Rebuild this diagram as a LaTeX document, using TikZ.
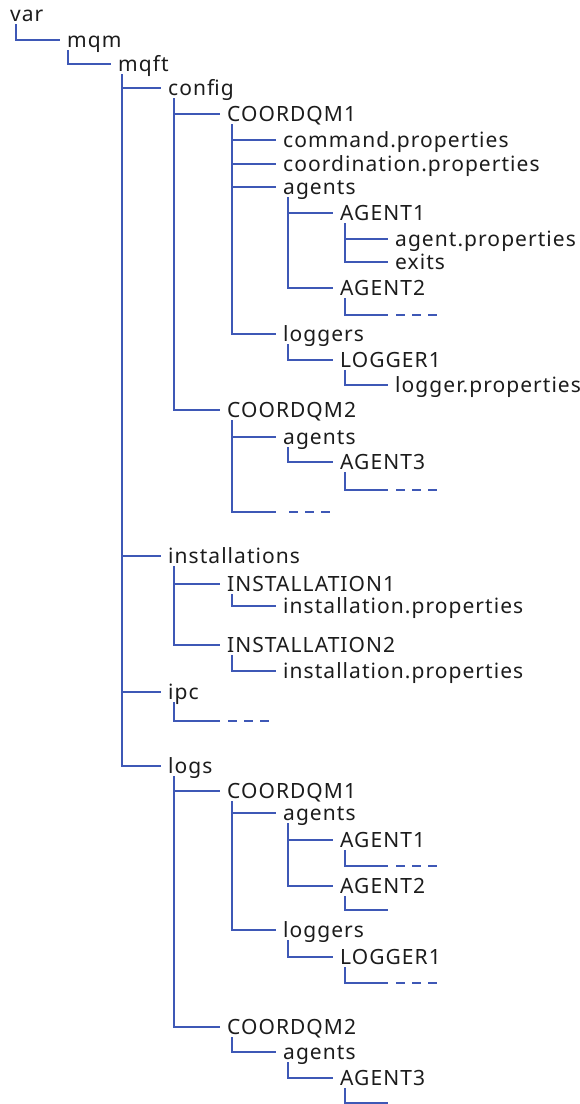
\documentclass[tikz,border=0pt]{standalone}
\usepackage{fontspec}
\usepackage{xcolor}
\usepackage{tikz}
\newfontfamily\dirfont[LetterSpace=5]{Noto Sans}
\definecolor{treeblue}{RGB}{62,88,182}
\definecolor{dirtext}{RGB}{28,28,28}
\tikzset{
    dir/.style={anchor=west, inner xsep=7pt, inner ysep=0pt, text height=17pt, text depth=3pt,
        font=\dirfont\fontsize{21}{24}\selectfont, text=dirtext},
    link/.style={draw=treeblue, line width=1.5pt},
    more/.style={draw=treeblue, line width=1.5pt, dash pattern=on 9pt off 7pt}
}

\begin{document}
\begin{tikzpicture}[x=1pt,y=-1pt]
    \useasboundingbox (0,0) rectangle (580,1104);

    % top of the tree
    \node[dir] (var) at (3,14) {var};
    \node[dir] (mqm) at (60,40) {mqm};
    \node[dir] (mqft) at (111,64) {mqft};
    \draw[link] ([xshift=13pt]var.south west) |- (mqm.west);
    \draw[link] ([xshift=8pt]mqm.south west) |- (mqft.west);

    % config
    \node[dir] (config) at (161,88) {config};
    \node[dir] (cq1) at (220,114) {COORDQM1};
    \node[dir] (cmd) at (276,140) {command.properties};
    \node[dir] (coord) at (276,164) {coordination.properties};
    \node[dir] (agents) at (276,187) {agents};
    \node[dir] (ag1) at (333,213) {AGENT1};
    \node[dir] (agprop) at (388,239) {agent.properties};
    \node[dir] (exits) at (388,262) {exits};
    \node[dir] (ag2) at (333,288) {AGENT2};
    \coordinate (ag2more) at (388,315);
    \node[dir] (loggers) at (276,334) {loggers};
    \node[dir] (lg1) at (333,360) {LOGGER1};
    \node[dir] (lgprop) at (388,385) {logger.properties};
    \node[dir] (cq2) at (220,410) {COORDQM2};
    \node[dir] (agents2) at (276,437) {agents};
    \node[dir] (ag3) at (333,462) {AGENT3};
    \coordinate (ag3more) at (388,490);
    \coordinate (cq2more) at (276,512);

    \draw[link] ([xshift=13pt]config.south west) |- (cq1.west)
        ([xshift=13pt]config.south west) |- (cq2.west);
    \draw[link] ([xshift=12pt]cq1.south west) |- (cmd.west)
        ([xshift=12pt]cq1.south west) |- (coord.west)
        ([xshift=12pt]cq1.south west) |- (agents.west)
        ([xshift=12pt]cq1.south west) |- (loggers.west);
    \draw[link] ([xshift=12pt]agents.south west) |- (ag1.west)
        ([xshift=12pt]agents.south west) |- (ag2.west);
    \draw[link] ([xshift=12pt]ag1.south west) |- (agprop.west)
        ([xshift=12pt]ag1.south west) |- (exits.west);
    \draw[link] ([xshift=12pt]ag2.south west) |- (ag2more);
    \draw[link] ([xshift=12pt]loggers.south west) |- (lg1.west);
    \draw[link] ([xshift=12pt]lg1.south west) |- (lgprop.west);
    \draw[link] ([xshift=12pt]cq2.south west) |- (agents2.west)
        ([xshift=12pt]cq2.south west) |- (cq2more);
    \draw[link] ([xshift=12pt]agents2.south west) |- (ag3.west);
    \draw[link] ([xshift=12pt]ag3.south west) |- (ag3more);
    \draw[more] ([xshift=8pt]ag2more) -- ++(42,0);
    \draw[more] ([xshift=8pt]ag3more) -- ++(42,0);
    \draw[more] ([xshift=13pt]cq2more) -- ++(42,0);

    % installations and ipc
    \node[dir] (inst) at (161,556) {installations};
    \node[dir] (inst1) at (220,584) {INSTALLATION1};
    \node[dir] (iprop1) at (276,606) {installation.properties};
    \node[dir] (inst2) at (220,645) {INSTALLATION2};
    \node[dir] (iprop2) at (276,671) {installation.properties};
    \node[dir] (ipc) at (161,692) {ipc};
    \coordinate (ipcmore) at (220,721);

    \draw[link] ([xshift=13pt]inst.south west) |- (inst1.west)
        ([xshift=13pt]inst.south west) |- (inst2.west);
    \draw[link] ([xshift=12pt]inst1.south west) |- (iprop1.west);
    \draw[link] ([xshift=12pt]inst2.south west) |- (iprop2.west);
    \draw[link] ([xshift=13pt]ipc.south west) |- (ipcmore);
    \draw[more] ([xshift=8pt]ipcmore) -- ++(42,0);

    % logs
    \node[dir] (logs) at (161,766) {logs};
    \node[dir] (lcq1) at (220,791) {COORDQM1};
    \node[dir] (lagents) at (276,813) {agents};
    \node[dir] (lag1) at (333,840) {AGENT1};
    \coordinate (lag1more) at (388,866);
    \node[dir] (lag2) at (333,886) {AGENT2};
    \coordinate (lag2more) at (388,910);
    \node[dir] (lloggers) at (276,930) {loggers};
    \node[dir] (llg1) at (333,957) {LOGGER1};
    \coordinate (llg1more) at (388,983);
    \node[dir] (lcq2) at (220,1027) {COORDQM2};
    \node[dir] (lagents2) at (276,1052) {agents};
    \node[dir] (lag3) at (333,1078) {AGENT3};
    \coordinate (lag3more) at (388,1103);

    \draw[link] ([xshift=13pt]logs.south west) |- (lcq1.west)
        ([xshift=13pt]logs.south west) |- (lcq2.west);
    \draw[link] ([xshift=12pt]lcq1.south west) |- (lagents.west)
        ([xshift=12pt]lcq1.south west) |- (lloggers.west);
    \draw[link] ([xshift=12pt]lagents.south west) |- (lag1.west)
        ([xshift=12pt]lagents.south west) |- (lag2.west);
    \draw[link] ([xshift=12pt]lag1.south west) |- (lag1more);
    \draw[link] ([xshift=12pt]lag2.south west) |- (lag2more);
    \draw[link] ([xshift=12pt]lloggers.south west) |- (llg1.west);
    \draw[link] ([xshift=12pt]llg1.south west) |- (llg1more);
    \draw[link] ([xshift=12pt]lcq2.south west) |- (lagents2.west);
    \draw[link] ([xshift=12pt]lagents2.south west) |- (lag3.west);
    \draw[link] ([xshift=12pt]lag3.south west) |- (lag3more);
    \draw[more] ([xshift=8pt]lag1more) -- ++(42,0);
    \draw[more] ([xshift=8pt]llg1more) -- ++(42,0);

    % main trunk under mqft
    \draw[link] ([xshift=11pt]mqft.south west) |- (config.west)
        ([xshift=11pt]mqft.south west) |- (inst.west)
        ([xshift=11pt]mqft.south west) |- (ipc.west)
        ([xshift=11pt]mqft.south west) |- (logs.west);
\end{tikzpicture}
\end{document}
